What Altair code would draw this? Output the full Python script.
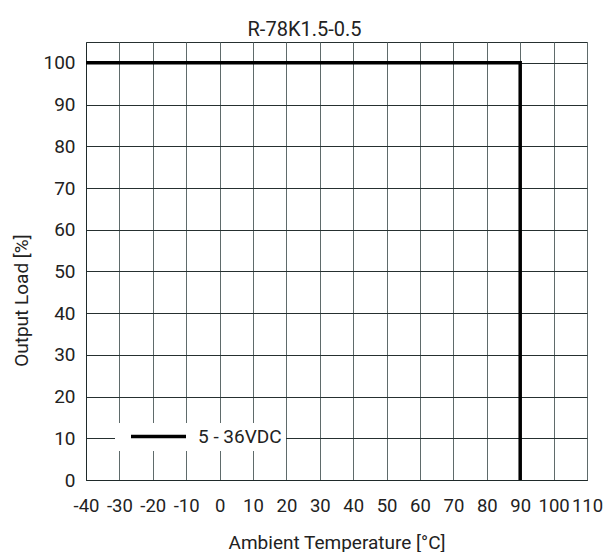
import altair as alt
import pandas as pd

# Derating curve
temps = [-40, 90, 90]
loads = [100, 100, 0]
order = [0, 1, 2]
series = ["5 - 36VDC"] * 3

x_ticks = list(range(-40, 111, 10))
y_ticks = list(range(0, 101, 10))

df = pd.DataFrame({"temp": temps, "load": loads, "ord": order, "series": series})

FONT = "Roboto"
TXT = "#222222"

chart = alt.Chart(df).mark_line(strokeWidth=3.5, strokeCap="butt", strokeJoin="miter").encode(
    x=alt.X("temp:Q", scale=alt.Scale(domain=[-40, 110], nice=False, zero=False),
            axis=alt.Axis(values=x_ticks, title="Ambient Temperature [°C]", gridColor="#5f6b6b",
                          titleY=68, titleBaseline="alphabetic", labelBaseline="alphabetic",
                          labelPadding=31, labelOverlap=False, labelExpr="'' + datum.value",
                          labelBound=False, labelFlush=False, labelFontSize=18.5)),
    y=alt.Y("load:Q", scale=alt.Scale(domain=[0, 105], nice=False),
            axis=alt.Axis(values=y_ticks, title="Output Load [%]", gridColor="#263030",
                          titleX=-59, titleY=258, titleBaseline="alphabetic", labelPadding=11,
                          labelFlush=False)),
    order="ord:Q",
    color=alt.Color("series:N", scale=alt.Scale(range=["#000000"]),
                    legend=alt.Legend(title=None, orient="none", legendX=29, legendY=381,
                                      fillColor="white", padding=4,
                                      symbolType="M-5.5,0H5.5", symbolSize=100,
                                      symbolStrokeWidth=3.5, symbolOffset=30,
                                      labelOffset=30, labelFont=FONT, labelFontSize=19,
                                      labelColor=TXT)),
).properties(
    width=501,
    height=438,
    autosize=alt.AutoSizeParams(type="none"),
    padding={"left": 78, "top": 34, "right": 16, "bottom": 72},
    title=alt.TitleParams("R-78K1.5-0.5", font=FONT, fontSize=20, fontWeight="normal",
                          color=TXT, anchor="middle", baseline="alphabetic", offset=9,
                          dx=-32, dy=23),
).configure_axis(
    grid=True,
    ticks=False,
    tickSize=0,
    domainColor="#1f2a2a",
    labelFont=FONT,
    labelFontSize=19,
    labelColor=TXT,
    titleFont=FONT,
    titleFontSize=19,
    titleFontWeight="normal",
    titleColor=TXT,
    gridOpacity=1,
    gridWidth=1,
).configure_view(stroke="#263030", strokeWidth=1)

chart.save("out.html", embed_options={"renderer": "svg", "actions": False})
